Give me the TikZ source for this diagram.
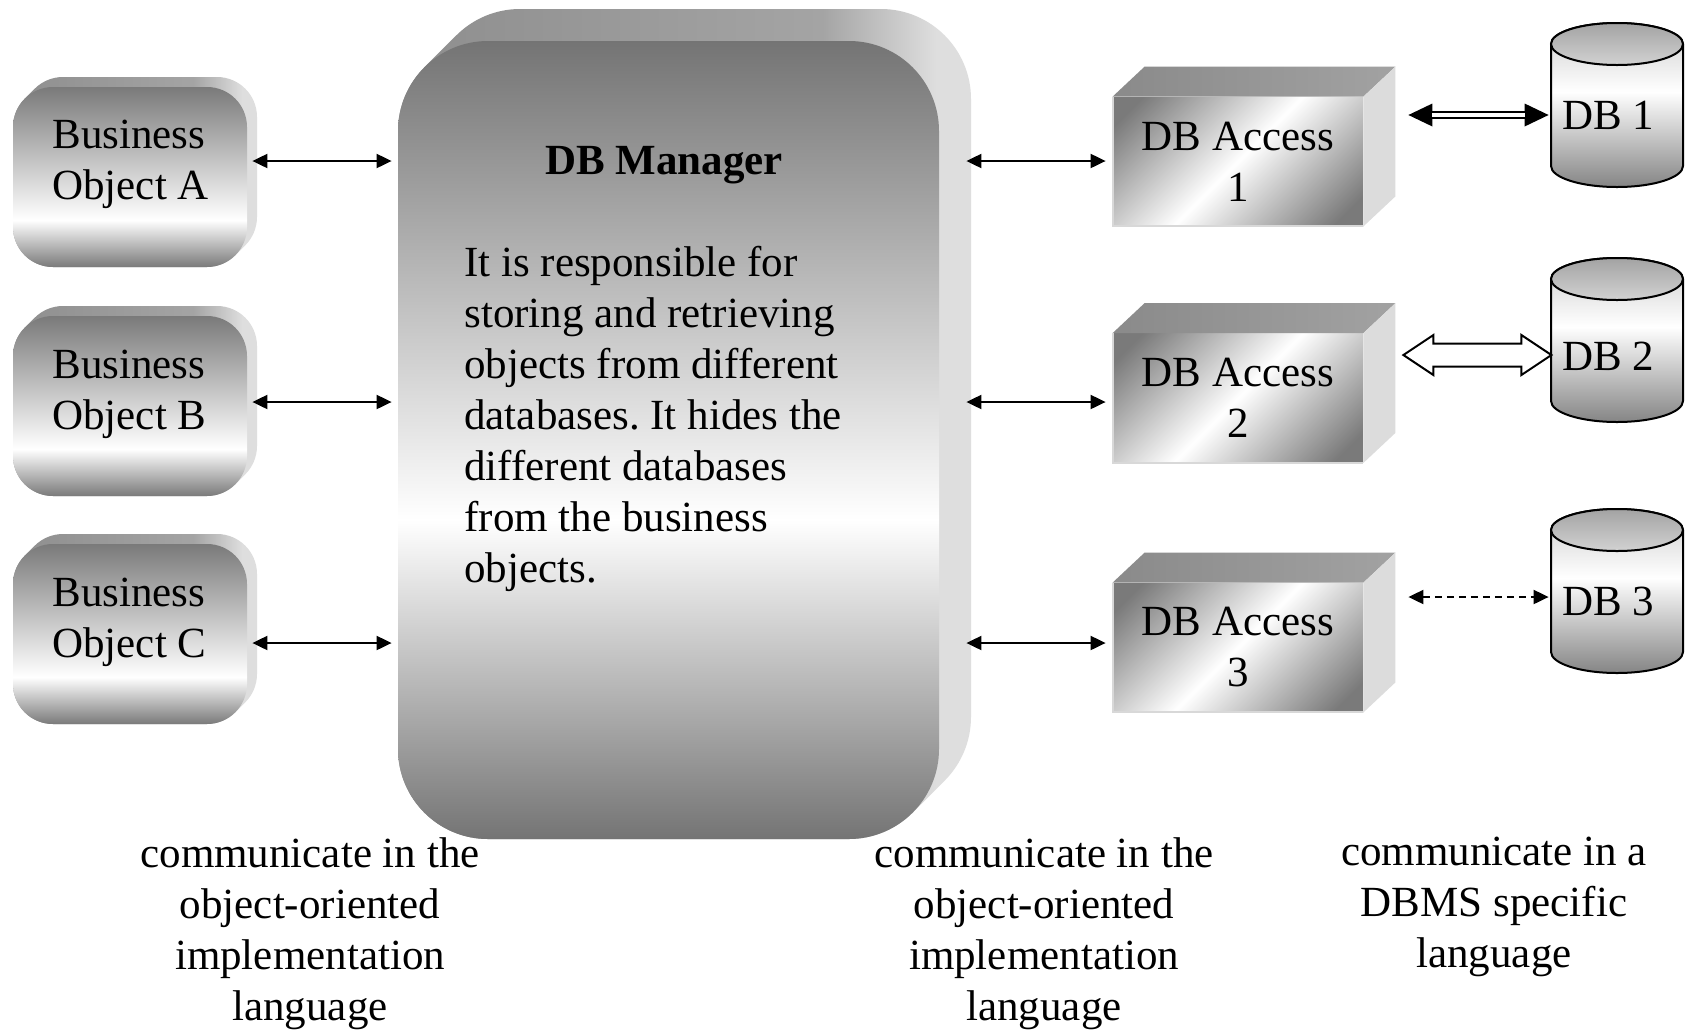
\documentclass[tikz,border=0pt]{standalone}
\usepackage{fontspec}
\setmainfont{Liberation Serif}
\frenchspacing
\usetikzlibrary{arrows.meta,calc}
\definecolor{gA}{HTML}{7A7A7A}
\definecolor{gB}{HTML}{747474}
\definecolor{gC}{HTML}{7A7A7A}
\definecolor{gD}{HTML}{8E8E8E}
\definecolor{gE}{HTML}{A4A4A4}
\definecolor{gF}{HTML}{DEDEDE}
\definecolor{cB}{HTML}{858585}
\definecolor{cT}{HTML}{CDCDCD}
\definecolor{ctTop}{HTML}{A3A3A3}
\definecolor{ctBot}{HTML}{D2D2D2}
\definecolor{gTopL}{HTML}{8A8A8A}
\definecolor{gTopR}{HTML}{A2A2A2}
\definecolor{gSide}{HTML}{DCDCDC}
\definecolor{gEdge}{HTML}{D8D8D8}
\pgfdeclareverticalshading{bofront}{100bp}{color(0bp)=(gA); color(25bp)=(gA); color(38bp)=(white); color(75bp)=(gA); color(100bp)=(gA)}
\pgfdeclareverticalshading{dbmfront}{100bp}{color(0bp)=(gB); color(25bp)=(gB); color(45bp)=(white); color(75bp)=(gB); color(100bp)=(gB)}
\pgfdeclareverticalshading{dbafront}{100bp}{color(0bp)=(gC); color(20bp)=(gC); color(50bp)=(white); color(80bp)=(gC); color(100bp)=(gC)}
\pgfdeclarehorizontalshading{bevel}{100bp}{color(0bp)=(gD); color(25bp)=(gD); color(62bp)=(gE); color(72bp)=(gF); color(100bp)=(gF)}
\pgfdeclareverticalshading{cylbody}{100bp}{color(0bp)=(cB); color(25bp)=(cB); color(54bp)=(white); color(75bp)=(cT); color(100bp)=(cT)}
\pgfdeclareverticalshading{cyltop}{100bp}{color(0bp)=(ctBot); color(25bp)=(ctBot); color(75bp)=(ctTop); color(100bp)=(ctTop)}
\newcommand\fs{\fontsize{21.5pt}{25.5pt}\selectfont}
% back/extrusion of a rounded box: L, Ttop(img), R, Bbot(img), r, d, shading
\newcommand\bevelbox[7]{%
 \shade[shading=#7] (#1,{-#4+#5}) -- (#1,{-#2-#5}) arc[start angle=180,end angle=135,radius=#5] -- ++(#6,#6) arc[start angle=135,end angle=90,radius=#5] -- ({#3-#5+#6},{-#2+#6}) arc[start angle=90,end angle=0,radius=#5] -- ({#3+#6},{-#4+#5+#6}) arc[start angle=0,end angle=-45,radius=#5] -- ++(-#6,-#6) arc[start angle=-45,end angle=-90,radius=#5] -- ({#1+#5},-#4) arc[start angle=270,end angle=180,radius=#5] -- cycle;}
% cylinder: name, cx, cy(img)
\newcommand\dbcyl[3]{%
 \shadedraw[shading=cylbody, line width=1pt] ({#2-66},{-#3+61}) -- ({#2-66},{-#3-61}) arc[start angle=180,end angle=360,x radius=66,y radius=21] -- ({#2+66},{-#3+61}) arc[start angle=0,end angle=180,x radius=66,y radius=21] -- cycle;
 \shadedraw[shading=cyltop, line width=1pt] (#2,{-#3+61}) ellipse[x radius=66, y radius=21];
 \node[cylbox] (#1) at (#2,-#3) {};}
% DB access cuboid: name, cx, cy(img), label
\newcommand\dbacc[4]{%
 \node[dbaf] (#1) at (#2,-#3) {#4};
 \shade[left color=gTopL, right color=gTopR] (#1.north west) -- ++(32,30) -- ([shift={(32,30)}]#1.north east) -- (#1.north east) -- cycle;
 \fill[gSide] (#1.north east) -- ++(32,30) -- ([shift={(32,30)}]#1.south east) -- (#1.south east) -- cycle;
 \draw[gEdge, line width=1pt] (#1.north west) -- (#1.south west) -- (#1.south east);}
\tikzset{
 txt/.style={font=\fs, inner sep=0pt},
 bof/.style={shade, shading=bofront, rounded corners=20pt, minimum width=117pt, minimum height=90pt, inner sep=0pt},
 dbmf/.style={shade, shading=dbmfront, rounded corners=45pt, minimum width=270.5pt, minimum height=399pt, inner sep=0pt},
 dbaf/.style={shade, shading=dbafront, shading angle=45, minimum width=125pt, minimum height=64.5pt, inner sep=0pt, font=\fs, align=center},
 cylbox/.style={inner sep=0pt, minimum width=66pt, minimum height=82pt},
 conn/.style={line width=1pt, {Triangle[length=7.5pt,width=7pt]}-{Triangle[length=7.5pt,width=7pt]}},
 dconn/.style={conn, dash pattern=on 3.5pt off 2.5pt},
 dblouter/.style={line width=4pt, {Triangle[length=12pt,width=11.5pt,line width=0pt]}-{Triangle[length=12pt,width=11.5pt,line width=0pt]}},
 dblinner/.style={white, line width=1.6pt},
 blockarr/.style={draw=black, fill=white, line width=1pt, line join=miter},
}
\begin{document}
\begin{tikzpicture}[x=0.5pt,y=0.5pt]
\useasboundingbox (0,0) rectangle (1687,-1029);
\fill[white] (0,0) rectangle (1687,-1029);
% rows for connectors
\coordinate (rA) at (0,-161);
\coordinate (rB) at (0,-402);
\coordinate (rC) at (0,-643);
\coordinate (r1) at (0,-115);
\coordinate (r2) at (0,-355);
\coordinate (r3) at (0,-597);
% business objects
\bevelbox{13}{87}{247}{267}{40}{10}{bevel}
\node[bof] (boA) at (130,-177) {};
\bevelbox{13}{316}{247}{496}{40}{10}{bevel}
\node[bof] (boB) at (130,-406) {};
\bevelbox{13}{544}{247}{724}{40}{10}{bevel}
\node[bof] (boC) at (130,-634) {};
\node[txt, anchor=north west, align=left] (tA) at (52,-120) {Business\\Object A};
\node[txt, anchor=north west, align=left] (tB) at (52,-350) {Business\\Object B};
\node[txt, anchor=north west, align=left] (tC) at (52,-578) {Business\\Object C};
% DB manager
\bevelbox{398}{41}{939}{839}{90}{32}{bevel}
\node[dbmf] (dbm) at (668.5,-440) {};
\node[txt, font=\fs\bfseries, anchor=base] (dbmt) at (664,-174) {DB Manager};
\node[txt, anchor=north west, align=left] (dbmp) at (464,-246) {It is responsible for\\storing and retrieving\\objects from different\\databases. It hides the\\different databases\\from the business\\objects.};
% DB access
\dbacc{dba1}{1238}{161.5}{DB Access\\1}
\dbacc{dba2}{1238}{398}{DB Access\\2}
\dbacc{dba3}{1238}{647.5}{DB Access\\3}
% databases
\dbcyl{db1}{1617}{105}
\dbcyl{db2}{1617}{340}
\dbcyl{db3}{1617}{591}
\node[txt, anchor=base] (db1l) at (1608,-129) {DB 1};
\node[txt, anchor=base] (db2l) at (1608,-370) {DB 2};
\node[txt, anchor=base] (db3l) at (1608,-615) {DB 3};
% connectors
\draw[conn, shorten <=2.5pt, shorten >=3pt] (boA.east |- rA) -- (dbm.west |- rA);
\draw[conn, shorten <=2.5pt, shorten >=3pt] (boB.east |- rB) -- (dbm.west |- rB);
\draw[conn, shorten <=2.5pt, shorten >=3pt] (boC.east |- rC) -- (dbm.west |- rC);
\draw[conn, shorten <=13.5pt, shorten >=3.5pt] (dbm.east |- rA) -- (dba1.west |- rA);
\draw[conn, shorten <=13.5pt, shorten >=3.5pt] (dbm.east |- rB) -- (dba2.west |- rB);
\draw[conn, shorten <=13.5pt, shorten >=3.5pt] (dbm.east |- rC) -- (dba3.west |- rC);
\draw[dblouter, shorten <=22.5pt, shorten >=1pt] (dba1.east |- r1) -- (db1.west |- r1);
\draw[dblinner, shorten <=34.5pt, shorten >=13pt] (dba1.east |- r1) -- (db1.west |- r1);
\draw[blockarr] ($(dba2.east |- r2)+(40,0)$) -- ++(30,20) -- ++(0,-8.5) -- ++(88,0) -- ++(0,8.5) -- ++(30,-20) -- ++(-30,-20) -- ++(0,8.5) -- ++(-88,0) -- ++(0,-8.5) -- cycle;
\draw[dconn, shorten <=22.5pt, shorten >=1pt] (dba3.east |- r3) -- (db3.west |- r3);
% captions
\node[txt, anchor=north, align=center] (cap1) at (310,-837) {communicate in the\\object-oriented\\implementation\\language};
\node[txt, anchor=north, align=center] (cap2) at (1044,-837) {communicate in the\\object-oriented\\implementation\\language};
\node[txt, anchor=north, align=center] (cap3) at (1494,-837) {communicate in a\\DBMS specific\\language};
\end{tikzpicture}
\end{document}
